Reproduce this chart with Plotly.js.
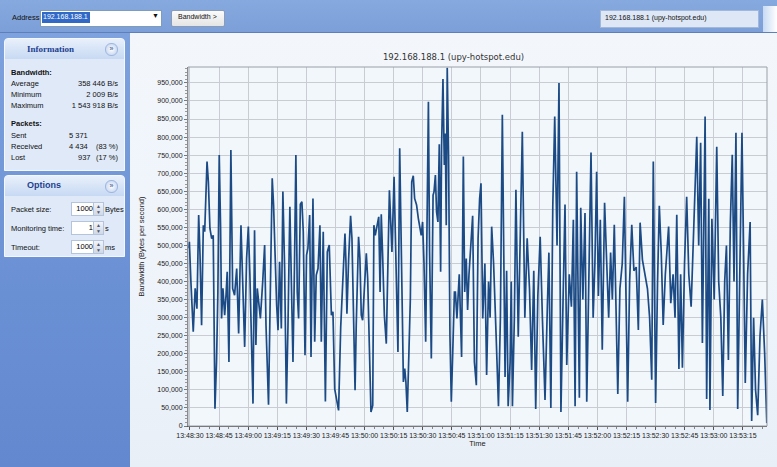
<!DOCTYPE html>
<html><head><meta charset="utf-8">
<script src="https://cdn.plot.ly/plotly-3.0.1.min.js"></script>
<style>
html,body{margin:0;padding:0;width:777px;height:467px;overflow:hidden;font-family:"Liberation Sans",Arial,sans-serif;}
#top{position:absolute;left:0;top:0;width:777px;height:32px;background:linear-gradient(#86a9df,#7c9fd9);border-bottom:1px solid #5f7fb8;}
.t{position:absolute;font-size:7.5px;color:#111;white-space:nowrap;}
#left{position:absolute;left:0;top:33px;width:130px;height:434px;background:linear-gradient(#7ea2dd,#6a90d4 60%,#6488cf);}
.card{position:absolute;left:4px;width:119px;background:#dfe9f8;border:1px solid #f4f8fe;border-radius:4px 4px 0 0;}
.hdr{position:absolute;left:0;top:0;width:119px;height:20px;background:linear-gradient(#e8f0fb,#c7d9f3);border-radius:4px 4px 0 0;}
.hdr span{position:absolute;left:22px;top:5px;font-size:9px;font-weight:bold;color:#1e3f8f;font-family:"Liberation Serif","DejaVu Serif",serif;}
.btn{position:absolute;right:6px;top:4px;width:11px;height:11px;border-radius:6px;background:radial-gradient(#ffffff,#b9cdee);border:1px solid #9fb6e0;font-size:7px;line-height:10px;text-align:center;color:#22427f;}
.inp{position:absolute;width:21px;height:12px;background:#fff;border:1px solid #b4c4dc;font-size:7.5px;text-align:right;line-height:12px;}
.spin{position:absolute;width:9px;height:12px;background:linear-gradient(#f1f4f9,#cfd8e6);border:1px solid #b4c4dc;font-size:5px;line-height:6px;text-align:center;color:#556;}
#chartbg{position:absolute;left:130px;top:33px;width:647px;height:434px;background:linear-gradient(#f3f7fc,#edf3fa 70%,#e9eff7);}
#chart{position:absolute;left:130px;top:32px;width:647px;height:435px;}
</style></head><body>
<div id="top">
 <div class="t" style="left:12px;top:13px;">Address:</div>
 <div style="position:absolute;left:40px;top:10px;width:120px;height:15px;background:#fff;border:1px solid #7f9db9;"></div>
 <div style="position:absolute;left:42px;top:12px;width:48px;height:11px;background:#3169c6;"></div>
 <div class="t" style="left:43px;top:13px;color:#fff;font-size:7px;">192.168.188.1</div>
 <div class="t" style="left:152px;top:12px;font-size:7px;">&#9660;</div>
 <div style="position:absolute;left:171px;top:10px;width:52px;height:15px;background:linear-gradient(#fbfbfb,#e4e4e4);border:1px solid #8a9bb5;border-radius:2px;"></div>
 <div class="t" style="left:178px;top:13px;font-size:7px;">Bandwidth &gt;</div>
 <div style="position:absolute;left:600px;top:10px;width:157px;height:16px;background:#dde7f6;border:1px solid #a3b7d8;"></div>
 <div class="t" style="left:605px;top:14px;font-size:7px;">192.168.188.1 (upy-hotspot.edu)</div>
 <div style="position:absolute;left:763px;top:6px;width:14px;height:26px;background:linear-gradient(90deg,#c8daf3,#ffffff);"></div>
</div>
<div id="left">
 <div class="card" style="top:5px;height:131px;">
  <div class="hdr"><span>Information</span><div class="btn">&#187;</div></div>
  <div class="t" style="left:6px;top:29px;font-weight:bold;">Bandwidth:</div>
  <div class="t" style="left:6px;top:40px;">Average</div><div class="t" style="right:6px;top:40px;">358 446 B/s</div>
  <div class="t" style="left:6px;top:51px;">Minimum</div><div class="t" style="right:6px;top:51px;">2 009 B/s</div>
  <div class="t" style="left:6px;top:62px;">Maximum</div><div class="t" style="right:6px;top:62px;">1 543 918 B/s</div>
  <div class="t" style="left:6px;top:80px;font-weight:bold;">Packets:</div>
  <div class="t" style="left:6px;top:92px;">Sent</div><div class="t" style="left:64px;top:92px;">5 371</div>
  <div class="t" style="left:6px;top:103px;">Received</div><div class="t" style="left:64px;top:103px;">4 434</div><div class="t" style="right:6px;top:103px;">(83 %)</div>
  <div class="t" style="left:6px;top:114px;">Lost</div><div class="t" style="left:73px;top:114px;">937</div><div class="t" style="right:6px;top:114px;">(17 %)</div>
 </div>
 <div class="card" style="top:142px;height:80px;">
  <div class="hdr"><span style="font-family:'Liberation Sans',Arial,sans-serif;top:4px;">Options</span><div class="btn">&#187;</div></div>
  <div class="t" style="left:6px;top:29px;">Packet size:</div>
  <div class="inp" style="left:66px;top:26px;">1000</div><div class="spin" style="left:88px;top:26px;">&#9650;<br>&#9660;</div><div class="t" style="left:100px;top:29px;">Bytes</div>
  <div class="t" style="left:6px;top:48px;">Monitoring time:</div>
  <div class="inp" style="left:66px;top:45px;">1</div><div class="spin" style="left:88px;top:45px;">&#9650;<br>&#9660;</div><div class="t" style="left:100px;top:48px;">s</div>
  <div class="t" style="left:6px;top:67px;">Timeout:</div>
  <div class="inp" style="left:66px;top:64px;">1000</div><div class="spin" style="left:88px;top:64px;">&#9650;<br>&#9660;</div><div class="t" style="left:100px;top:67px;">ms</div>
 </div>
</div>
<div id="chartbg"></div>
<div id="chart"></div>
<script>
// seconds after 13:48:30
var secs = [-0.7,-0.3,0.5,1.7,2.7,3.6,4.5,5.2,6.0,6.9,7.6,8.8,9.5,10.3,11.2,12.0,12.9,13.7,14.4,15.1,15.8,16.3,17.0,17.9,18.6,19.2,20.1,21.1,22.0,23.0,24.1,25.1,26.3,27.1,28.2,29.2,30.1,30.9,31.8,32.5,33.3,34.0,34.7,35.4,36.3,37.5,38.5,39.2,39.9,40.5,41.4,42.4,43.1,44.0,44.7,45.4,46.2,47.1,47.9,48.8,49.7,50.5,51.5,52.2,53.1,53.9,54.6,55.3,56.0,56.9,57.7,58.4,59.3,60.1,60.8,61.7,62.4,63.4,64.3,65.1,66.0,67.0,67.7,68.7,69.8,70.8,71.8,72.9,73.7,74.6,
75.6,76.6,77.7,79.9,80.4,80.9,81.8,82.8,83.5,84.2,85.1,85.7,86.3,86.9,87.6,88.3,89.0,89.7,90.4,90.9,91.6,92.4,93.3,94.2,94.8,95.5,96.2,97.3,98.0,98.6,99.3,100.2,101.2,101.9,102.8,103.4,104.1,105.2,105.8,106.5,107.2,108.1,108.8,109.5,110.0,110.7,111.3,112.0,112.9,113.6,114.3,115.1,115.8,116.8,117.7,118.6,119.2,119.9,120.6,121.5,122.3,122.9,123.5,124.4,125.3,125.8,126.5,127.1,127.8,128.5,129.2,129.7,130.4,131.1,131.6,132.1,132.6,133.3,134.0,134.7,135.4,136.3,136.8,137.6,138.8,140.0,140.9,141.6,142.4,143.1,143.8,144.7,145.7,146.6,147.6,148.5,149.3,150.0,150.9,
152.0,152.9,153.9,154.7,155.5,156.5,157.8,159.0,160.0,161.0,
162.4,163.2,164.0,165.0,165.6,166.2,167.2,168.0,169.2,170.2,
171.3,172.6,173.8,175.0,176.1,177.2,178.2,179.3,180.5,181.7,
183.0,184.2,185.0,186.0,187.0,188.0,189.2,190.2,191.2,192.3,
193.3,194.2,195.5,196.6,197.6,198.5,199.3,200.7,201.4,202.5,
203.6,204.5,205.6,206.7,207.8,208.7,209.6,210.5,211.5,212.5,
213.7,214.8,215.8,216.8,217.7,218.7,219.6,220.5,221.6,222.8,
223.9,224.7,225.6,226.6,227.7,228.8,230.0,231.1,232.0,233.2,
234.5,235.8,236.9,238.0,238.8,240.0,241.0,241.9,242.9,243.9,
245.0,246.7,247.8,249.0,250.0,250.9,252.0,252.9,253.8,254.9,
256.0,257.1,258.3,259.3,260.3,261.2,262.2,263.2,264.1,265.5,
266.3,267.4,268.0,269.0,270.2,271.5,272.5,273.6,274.6,275.6,
276.5,277.5,278.5,279.5,280.4,281.4,282.3,283.4,284.5,285.3,
286.2,287.4,288.7,289.5,290.5,291.5,292.6,293.8,295.0,296.2,297.3];
// bytes per second
var bw = [492000,510000,399000,261000,381000,325000,584000,473000,279000,556000,538000,732000,676000,547000,519000,528000,48000,177000,371000,750000,547000,298000,381000,307000,362000,427000,177000,764000,381000,362000,436000,256000,556000,381000,219000,464000,552000,418000,177000,62000,542000,224000,381000,334000,298000,399000,501000,279000,187000,59000,362000,686000,612000,436000,334000,265000,455000,270000,649000,436000,62000,270000,607000,418000,177000,455000,750000,371000,298000,614000,621000,538000,196000,473000,492000,584000,191000,630000,233000,418000,436000,556000,233000,538000,68000,482000,501000,307000,316000,103000,
76000,43000,274000,533000,455000,311000,464000,582000,519000,362000,99000,279000,399000,524000,464000,307000,293000,353000,408000,478000,408000,205000,39000,57000,556000,528000,552000,579000,371000,586000,473000,307000,228000,399000,653000,575000,482000,690000,565000,427000,205000,769000,464000,298000,122000,159000,122000,39000,214000,353000,676000,693000,630000,612000,575000,547000,528000,565000,455000,233000,727000,898000,482000,187000,639000,649000,695000,593000,565000,780000,427000,778000,961000,723000,810000,556000,992000,741000,251000,67000,196000,371000,371000,298000,420000,191000,746000,371000,464000,321000,418000,501000,582000,177000,113000,519000,630000,672000,298000,
450000,141000,400000,300000,552000,450000,250000,55000,300000,862000,
136000,430000,55000,177000,400000,55000,300000,654000,247000,500000,
815000,300000,520000,380000,155000,430000,47000,360000,524000,290000,
72000,330000,480000,50000,607000,857000,500000,950000,39000,350000,
613000,169000,420000,330000,571000,55000,704000,78000,604000,350000,
590000,67000,400000,757000,300000,450000,704000,360000,571000,211000,
618000,420000,300000,480000,350000,557000,300000,89000,380000,450000,
635000,330000,67000,400000,557000,430000,440000,266000,563000,460000,
420000,380000,300000,128000,732000,64000,400000,610000,480000,280000,
420000,552000,340000,420000,300000,585000,158000,420000,161000,450000,
635000,420000,330000,480000,618000,801000,500000,784000,230000,857000,
75000,629000,44000,574000,350000,773000,400000,300000,83000,400000,
500000,183000,560000,751000,400000,812000,47000,460000,812000,500000,
119000,420000,565000,14000,300000,100000,30000,250000,350000,200000,8000];

var base = Date.UTC(2024,0,1,13,48,30);
function ts(s){return new Date(base + Math.round(s*1000)).toISOString().replace('T',' ').replace('Z','');}
var xs = secs.map(ts);

var fnt = {family:'"Liberation Sans", Arial, sans-serif', size:7, color:'#222'};
Plotly.newPlot('chart', [{
  x: xs, y: bw, type:'scatter', mode:'lines',
  line:{color:'#1b4a84', width:1.7},
  hoverinfo:'skip'
}], {
  width:647, height:435,
  margin:{l:58, r:10, t:35, b:41},
  paper_bgcolor:'rgba(0,0,0,0)', plot_bgcolor:'#f2f7fc',
  showlegend:false,
  title:{text:'192.168.188.1 (upy-hotspot.edu)', font:{family:'"DejaVu Sans", sans-serif', size:8.5, color:'#333'}, x:0.5, xref:'container', y:1-25/435, yref:'container', yanchor:'middle'},
  xaxis:{type:'date', range:[ts(-1), ts(297.4)], tick0:ts(0), dtick:15000, tickformat:'%H:%M:%S', tickangle:0,
    showgrid:true, gridcolor:'#c9ccd3', gridwidth:1, showline:true, linecolor:'#555', linewidth:1,
    ticks:'outside', ticklen:3, tickcolor:'#555', tickfont:fnt, zeroline:false,
    minor:{dtick:5000, ticks:'outside', ticklen:2, tickcolor:'#888', showgrid:false},
    title:{text:'Time', font:{family:'"Liberation Sans", Arial, sans-serif', size:7.5, color:'#222'}, standoff:2}},
  yaxis:{range:[0, 994000], dtick:50000, tickformat:',d', showgrid:true, gridcolor:'#c9ccd3', gridwidth:1,
    showline:true, linecolor:'#777', linewidth:1, ticks:'outside', ticklen:3, tickcolor:'#777', tickfont:fnt, zeroline:false,
    minor:{dtick:10000, ticks:'outside', ticklen:2, tickcolor:'#999', showgrid:false},
    title:{text:'Bandwidth (Bytes per second)', font:{family:'"Liberation Sans", Arial, sans-serif', size:7.5, color:'#222'}, standoff:11}},
  shapes:[{type:'rect', xref:'paper', yref:'paper', x0:0, x1:1, y0:0, y1:1, line:{color:'#9a9ea6', width:1}, fillcolor:'rgba(0,0,0,0)', layer:'above'}]
}, {staticPlot:true, displayModeBar:false});
</script>
</body></html>
